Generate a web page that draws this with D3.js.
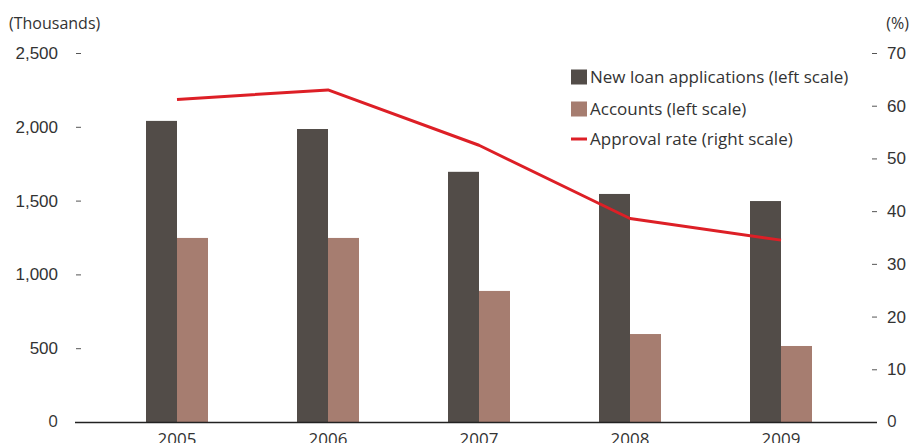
<!DOCTYPE html>
<html>
<head>
<meta charset="utf-8">
<script src="https://cdn.jsdelivr.net/npm/d3@7/dist/d3.min.js"></script>
<style>
  html, body { margin: 0; padding: 0; background: #fff; }
  svg { display: block; font-family: "Open Sans", "Noto Sans", sans-serif; }
</style>
</head>
<body>
<svg id="chart" width="910" height="443"></svg>
<script>
// Loan data, 2005–2009
const years = ["2005", "2006", "2007", "2008", "2009"];
const newApplications = [2040, 1985, 1695, 1545, 1497];   // thousands
const accounts = [1247, 1247, 888, 596, 515];               // thousands
const approvalRate = [61.2, 63.0, 52.5, 38.6, 34.5];         // percent
const leftTicks = [0, 500, 1000, 1500, 2000, 2500];
const rightTicks = [0, 10, 20, 30, 40, 50, 60, 70];
const seriesNames = ["New loan applications (left scale)", "Accounts (left scale)", "Approval rate (right scale)"];

const colors = { apps: "#524c48", accounts: "#a67d70", rate: "#dd1f26", text: "#333333" };
const fs = 17;

const svg = d3.select("#chart");
const plotLeft = 76, plotRight = 877, plotTop = 53, plotBottom = 422;

const x = d3.scaleBand().domain(years).range([101.5, 856.5]);
const yLeft = d3.scaleLinear().domain([0, 2500]).range([plotBottom, plotTop]);
const yRight = d3.scaleLinear().domain([0, 70]).range([plotBottom, plotTop]);
const barW = 31;

// Bars
const g = svg.append("g");
g.selectAll("rect.apps").data(years).join("rect")
  .attr("class", "apps")
  .attr("x", d => x(d) + x.bandwidth() / 2 - barW)
  .attr("width", barW)
  .attr("y", (d, i) => yLeft(newApplications[i]))
  .attr("height", (d, i) => plotBottom - yLeft(newApplications[i]))
  .attr("fill", colors.apps);

g.selectAll("rect.acc").data(years).join("rect")
  .attr("class", "acc")
  .attr("x", d => x(d) + x.bandwidth() / 2)
  .attr("width", barW)
  .attr("y", (d, i) => yLeft(accounts[i]))
  .attr("height", (d, i) => plotBottom - yLeft(accounts[i]))
  .attr("fill", colors.accounts);

// Left axis (inward ticks, no domain line)
const leftAxis = d3.axisRight(yLeft).tickValues(leftTicks.filter(v => v > 0))
  .tickSize(5).tickFormat(d3.format(","));
const la = svg.append("g").attr("transform", `translate(${plotLeft},0)`).call(leftAxis);
la.select(".domain").remove();
la.selectAll(".tick line").attr("stroke", "#555");
la.selectAll(".tick text").attr("x", -18).attr("text-anchor", "end");

// Right axis
const rightAxis = d3.axisLeft(yRight).tickValues(rightTicks.filter(v => v > 0))
  .tickSize(5).tickFormat(d3.format("d"));
const ra = svg.append("g").attr("transform", `translate(${plotRight},0)`).call(rightAxis);
ra.select(".domain").remove();
ra.selectAll(".tick line").attr("stroke", "#555");
ra.selectAll(".tick text").attr("x", 10).attr("text-anchor", "start");

[la, ra].forEach(a => a.selectAll(".tick text")
  .attr("font-size", fs).attr("fill", colors.text).attr("font-family", null));

// Zero labels on both sides
svg.append("text").attr("x", plotLeft - 18).attr("y", yLeft(0)).attr("dy", "0.32em")
  .attr("text-anchor", "end").attr("font-size", fs).attr("fill", colors.text).text(leftTicks[0]);
svg.append("text").attr("x", plotRight + 10).attr("y", yRight(0)).attr("dy", "0.32em")
  .attr("text-anchor", "start").attr("font-size", fs).attr("fill", colors.text).text(rightTicks[0]);

// Baseline
svg.append("line").attr("x1", plotLeft - 1).attr("x2", plotRight)
  .attr("y1", plotBottom + 0.5).attr("y2", plotBottom + 0.5)
  .attr("stroke", "#222").attr("stroke-width", 1.3);

// X labels
svg.selectAll("text.xlab").data(years).join("text")
  .attr("class", "xlab")
  .attr("x", d => x(d) + x.bandwidth() / 2)
  .attr("y", 445)
  .attr("text-anchor", "middle").attr("font-size", fs).attr("fill", colors.text)
  .text(d => d);

// Approval rate line
const line = d3.line()
  .x((d, i) => x(years[i]) + x.bandwidth() / 2)
  .y(d => yRight(d));
svg.append("path").datum(approvalRate)
  .attr("d", line).attr("fill", "none")
  .attr("stroke", colors.rate).attr("stroke-width", 3).attr("stroke-linejoin", "round");

// Unit labels
svg.append("text").attr("x", 9).attr("y", 29).attr("font-size", 16).attr("fill", colors.text).text("(Thousands)");
svg.append("text").attr("x", 909).attr("y", 29).attr("text-anchor", "end").attr("font-size", 16).attr("fill", colors.text).text("(%)");

// Legend
const legend = svg.append("g").attr("transform", "translate(571,0)");
const rows = [77, 109, 139];
legend.append("rect").attr("x", 0).attr("y", rows[0] - 7.5).attr("width", 16).attr("height", 15).attr("fill", colors.apps);
legend.append("rect").attr("x", 0).attr("y", rows[1] - 7.5).attr("width", 16).attr("height", 15).attr("fill", colors.accounts);
legend.append("line").attr("x1", 0).attr("x2", 16).attr("y1", rows[2]).attr("y2", rows[2])
  .attr("stroke", colors.rate).attr("stroke-width", 3);
legend.selectAll("text").data(seriesNames).join("text")
  .attr("x", 19).attr("y", (d, i) => rows[i]).attr("dy", "0.35em")
  .attr("font-size", fs).attr("fill", colors.text).text(d => d);
</script>
</body>
</html>
